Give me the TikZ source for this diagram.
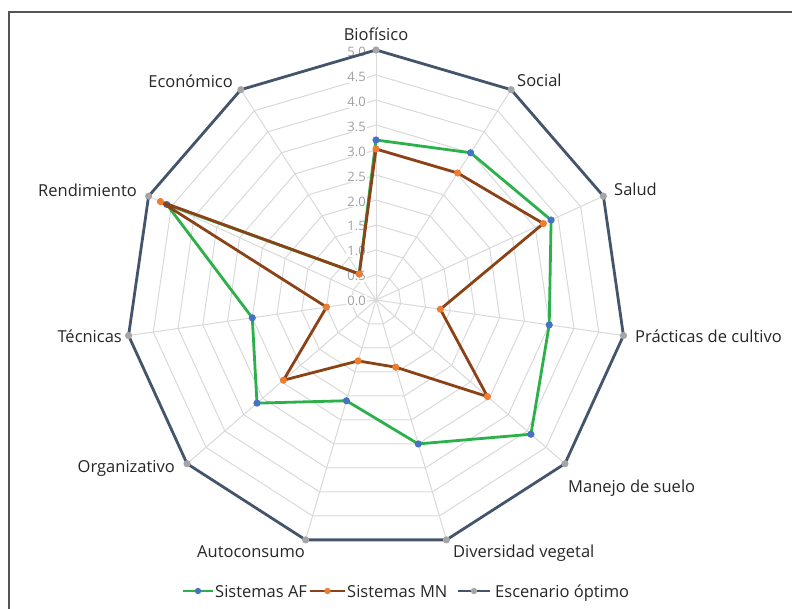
\documentclass[tikz,border=0pt]{standalone}
\usepackage{fontspec}
\setmainfont{Open Sans}
\definecolor{afgreen}{HTML}{2BB04A}
\definecolor{afblue}{HTML}{4472C4}
\definecolor{mnbrown}{HTML}{8A4216}
\definecolor{mnorange}{HTML}{ED7D31}
\definecolor{optline}{HTML}{44546A}
\definecolor{optdot}{HTML}{A5A5A5}
\definecolor{gridgray}{HTML}{D9D9D9}
\definecolor{ticktext}{HTML}{A0A0A0}
\definecolor{labeltext}{HTML}{262626}
\definecolor{framegray}{HTML}{555555}
\tikzset{
  gridline/.style={draw=gridgray, line width=1pt},
  afline/.style={draw=afgreen, line width=2.8pt, line join=round},
  mnline/.style={draw=mnbrown, line width=2.8pt, line join=round},
  optlinestyle/.style={draw=optline, line width=2.8pt, line join=round},
  axlabel/.style={inner sep=0pt, text=labeltext, font=\fontsize{16.5}{20}\selectfont},
  ticklabel/.style={inner sep=1pt, fill=white, text=ticktext, font=\fontsize{13}{15}\selectfont, anchor=east},
}
\begin{document}
\begin{tikzpicture}[x=1pt,y=1pt]
\useasboundingbox (0,0) rectangle (792,-609);
% frame
\draw[framegray, line width=1.6pt] (9,-640) -- (9,-12) -- (820,-12);
\begin{scope}[shift={(376,-300)}]
  \coordinate (c) at (0,0);
  \foreach \i in {0,...,10} {
    \coordinate (ax\i) at ({90-\i*360/11}:250);
  }
  % rings
  \foreach \r in {1,...,9} {
    \draw[gridline] (90:\r*25) \foreach \k in {1,...,10}{ -- ({90-\k*360/11}:\r*25)} -- cycle;
  }
  % spokes
  \foreach \i in {0,...,10} {
    \draw[gridline] (c) -- (ax\i);
  }
  % tick labels
  \foreach \t [count=\j from 0] in {0.0,0.5,1.0,1.5,2.0,2.5,3.0,3.5,4.0,4.5,5.0} {
    \node[ticklabel] (tk\j) at (-9,{\j*24.9-1}) {\t};
  }
  % data
  \foreach \v [count=\i from 0] in {3.2,3.5,3.85,3.5,4.1,3.0,2.1,3.15,2.5,4.6,0.62} {
    \coordinate (af\i) at ({90-\i*360/11}:{\v*50});
  }
  \foreach \v [count=\i from 0] in {3.02,3.02,3.68,1.3,2.95,1.4,1.27,2.45,1.0,4.74,0.62} {
    \coordinate (mn\i) at ({90-\i*360/11}:{\v*50});
  }
  \draw[afline] (af0)--(af1)--(af2)--(af3)--(af4)--(af5)--(af6)--(af7)--(af8)--(af9)--(af10)--cycle;
  \foreach \i in {0,...,10} { \fill[afblue] (af\i) circle (3.6); }
  \draw[mnline] (mn0)--(mn1)--(mn2)--(mn3)--(mn4)--(mn5)--(mn6)--(mn7)--(mn8)--(mn9)--(mn10)--cycle;
  \foreach \i in {0,...,10} { \fill[mnorange] (mn\i) circle (3.6); }
  \draw[optlinestyle] (ax0)--(ax1)--(ax2)--(ax3)--(ax4)--(ax5)--(ax6)--(ax7)--(ax8)--(ax9)--(ax10)--cycle;
  \foreach \i in {0,...,10} { \fill[optdot] (ax\i) circle (3.6); }
\end{scope}
% axis labels
\node[axlabel, anchor=base] (lb0) at (376,-41) {Biofísico};
\node[axlabel, anchor=base west] (lb1) at (517,-87) {Social};
\node[axlabel, anchor=base west] (lb2) at (614,-196) {Salud};
\node[axlabel, anchor=base west] (lb3) at (635,-342) {Prácticas de cultivo};
\node[axlabel, anchor=base west] (lb4) at (568,-492) {Manejo de suelo};
\node[axlabel, anchor=base west] (lb5) at (453,-557) {Diversidad vegetal};
\node[axlabel, anchor=base east] (lb6) at (305,-557) {Autoconsumo};
\node[axlabel, anchor=base east] (lb7) at (175,-472) {Organizativo};
\node[axlabel, anchor=base east] (lb8) at (122,-342) {Técnicas};
\node[axlabel, anchor=base east] (lb9) at (137,-197) {Rendimiento};
\node[axlabel, anchor=base east] (lb10) at (233,-88) {Económico};
% legend
\coordinate (l1a) at (183,-591); \coordinate (l1b) at (213,-591); \coordinate (l1m) at (198,-591);
\coordinate (l2a) at (310,-591); \coordinate (l2b) at (345,-591); \coordinate (l2m) at (327.5,-591);
\coordinate (l3a) at (458,-591); \coordinate (l3b) at (490,-591); \coordinate (l3m) at (474,-591);
\draw[afline] (l1a) -- (l1b); \fill[afblue] (l1m) circle (3.2);
\draw[mnline] (l2a) -- (l2b); \fill[mnorange] (l2m) circle (3.2);
\draw[optlinestyle] (l3a) -- (l3b); \fill[optdot] (l3m) circle (3.2);
\node[axlabel, anchor=base west] (lg1) at (215,-597) {Sistemas AF};
\node[axlabel, anchor=base west] (lg2) at (347,-597) {Sistemas MN};
\node[axlabel, anchor=base west] (lg3) at (495,-597) {Escenario óptimo};
\end{tikzpicture}
\end{document}
